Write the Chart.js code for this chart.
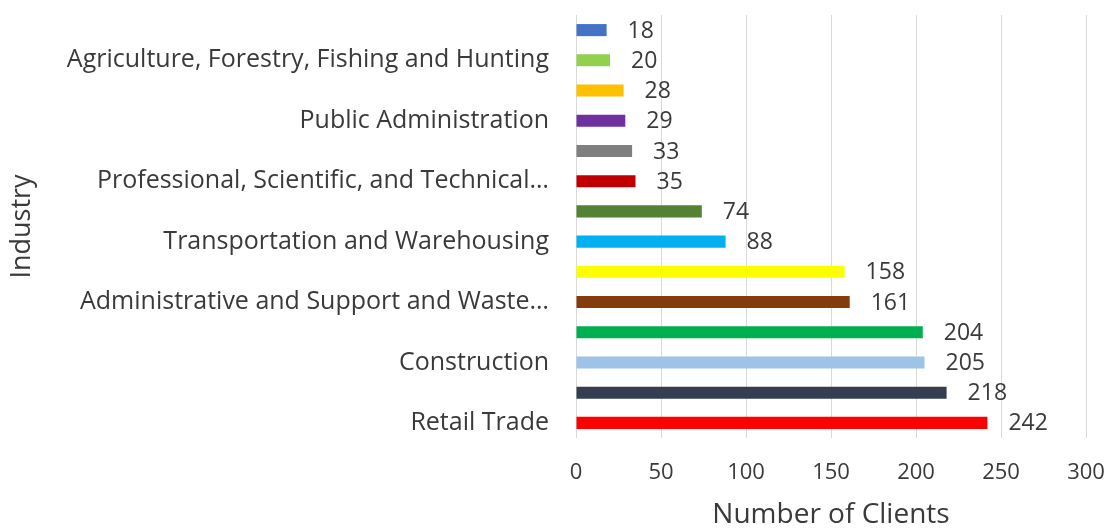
<!DOCTYPE html>
<html>
<head>
<meta charset="utf-8">
<script src="https://cdn.jsdelivr.net/npm/chart.js@4"></script>
<style>
    html, body { margin: 0; padding: 0; background: #fff; }
    #wrap { width: 1111px; height: 529px; }
</style>
</head>
<body>
<div id="wrap"><canvas id="industry-chart" width="1111" height="529"></canvas></div>
<script>
// industries, top to bottom (only every other label is shown in the original)
const industries = [
    '',
    'Agriculture, Forestry, Fishing and Hunting',
    '',
    'Public Administration',
    '',
    'Professional, Scientific, and Technical…',
    '',
    'Transportation and Warehousing',
    '',
    'Administrative and Support and Waste…',
    '',
    'Construction',
    '',
    'Retail Trade'
];
const clients = [18, 20, 28, 29, 33, 35, 74, 88, 158, 161, 204, 205, 218, 242];
const barColors = [
    '#4472C4', '#92D050', '#FFC000', '#7030A0', '#7F7F7F', '#C00000', '#548235',
    '#00B0F0', '#FFFF00', '#843C0C', '#00B050', '#9DC3E6', '#333F50', '#FF0000'
];
const xTicks = [0, 50, 100, 150, 200, 250, 300];

const FONT = '"Open Sans", Lato, sans-serif';
const TEXT = '#3a3a3a';

// draws the value to the right of each bar
const valueLabels = {
    id: 'valueLabels',
    afterDatasetsDraw(chart) {
        const ctx = chart.ctx;
        const meta = chart.getDatasetMeta(0);
        ctx.save();
        ctx.font = '23px ' + FONT;
        ctx.fillStyle = TEXT;
        ctx.textBaseline = 'middle';
        ctx.textAlign = 'left';
        meta.data.forEach((bar, i) => {
            ctx.fillText(String(clients[i]), bar.x + 21, bar.y + 1);
        });
        ctx.restore();
    }
};

const ctx = document.getElementById('industry-chart').getContext('2d');
new Chart(ctx, {
    type: 'bar',
    data: {
        labels: industries,
        datasets: [{
            data: clients,
            backgroundColor: barColors,
            barPercentage: 0.4,
            categoryPercentage: 1.0
        }]
    },
    options: {
        indexAxis: 'y',
        responsive: false,
        animation: false,
        layout: { padding: { top: 15, right: 25, left: 9, bottom: 0 } },
        plugins: {
            legend: { display: false },
            tooltip: { enabled: false }
        },
        scales: {
            x: {
                min: 0,
                max: 300,
                afterBuildTicks: (scale) => { scale.ticks = xTicks.map(v => ({ value: v })); },
                afterFit: (scale) => {
                    scale.height = 91;
                    scale.paddingLeft = 0;
                    scale.paddingRight = 0;
                },
                grid: { color: '#D9D9D9', drawTicks: false },
                border: { display: false },
                ticks: { color: TEXT, font: { size: 22, family: FONT }, padding: 22 },
                title: {
                    display: true,
                    text: 'Number of Clients',
                    color: TEXT,
                    font: { size: 28, family: FONT, lineHeight: 1 },
                    padding: 0
                }
            },
            y: {
                afterFit: (scale) => {
                    scale.width = 567;
                    scale.paddingTop = 0;
                    scale.paddingBottom = 0;
                },
                grid: { display: false },
                border: { display: false },
                ticks: { color: TEXT, font: { size: 25, family: FONT }, padding: 19, autoSkip: false },
                title: {
                    display: true,
                    text: 'Industry',
                    color: TEXT,
                    font: { size: 27, family: FONT, lineHeight: 1 },
                    padding: 0
                }
            }
        }
    },
    plugins: [valueLabels]
});
</script>
</body>
</html>
